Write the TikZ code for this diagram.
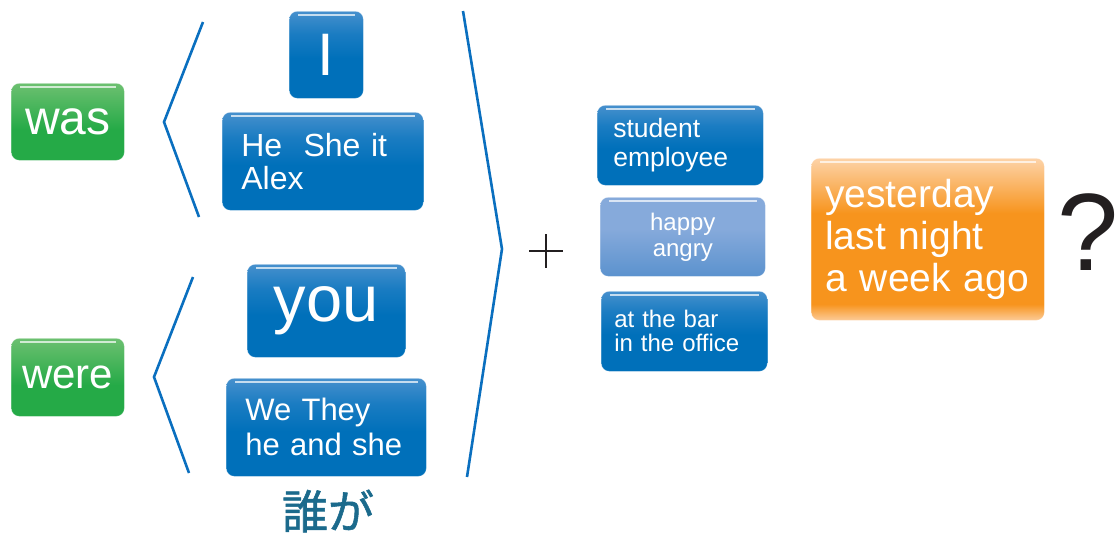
\documentclass[tikz,border=0pt]{standalone}
\usepackage{fontspec}
\setmainfont{Liberation Sans}
\newfontfamily\cjk[FakeBold=1.2]{Noto Sans CJK JP}
\usetikzlibrary{calc}
\definecolor{bluetop}{HTML}{4690CD}
\definecolor{bluemid}{HTML}{1A7CC2}
\definecolor{bluebot}{HTML}{0070BA}
\definecolor{greentop}{HTML}{6CC070}
\definecolor{greenbot}{HTML}{25AA47}
\definecolor{lbtop}{HTML}{86AADB}
\definecolor{lbbot}{HTML}{5B92CE}
\definecolor{ortop}{HTML}{FDD3A8}
\definecolor{ormid}{HTML}{F7941D}
\definecolor{orbot}{HTML}{FCCB98}
\definecolor{bracketblue}{HTML}{0A6FBF}
\definecolor{jpteal}{HTML}{1B6A8C}
\definecolor{qmark}{HTML}{231F20}
\pgfdeclareverticalshading{blueshade}{100bp}{color(0bp)=(bluebot); color(25bp)=(bluebot); color(48bp)=(bluebot); color(62bp)=(bluemid); color(75bp)=(bluetop); color(100bp)=(bluetop)}
\pgfdeclareverticalshading{greenshade}{100bp}{color(0bp)=(greenbot); color(25bp)=(greenbot); color(45bp)=(greenbot); color(75bp)=(greentop); color(100bp)=(greentop)}
\pgfdeclareverticalshading{lbshade}{100bp}{color(0bp)=(lbbot); color(25bp)=(lbbot); color(55bp)=(lbtop); color(75bp)=(lbtop); color(100bp)=(lbtop)}
\pgfdeclareverticalshading{orshade}{100bp}{color(0bp)=(orbot); color(25bp)=(orbot); color(30bp)=(ormid); color(58bp)=(ormid); color(75bp)=(ortop); color(100bp)=(ortop)}
\tikzset{
  box/.style={anchor=north west, rounded corners=8pt, shade, inner ysep=0pt,
    text=white, draw=white, draw opacity=0.35, line width=0.6pt},
  bluebox/.style={box, shading=blueshade},
  greenbox/.style={box, shading=greenshade},
  lbbox/.style={box, shading=lbshade},
  orbox/.style={box, shading=orshade},
  shine/.style={draw=white, opacity=0.7, line width=1.4pt},
  brack/.style={draw=bracketblue, line width=2.6pt},
}
\begin{document}
\begin{tikzpicture}[x=1pt,y=-1pt]
\useasboundingbox (0,0) rectangle (1117,536);

% left column
\node[greenbox, minimum width=113pt, minimum height=77pt, inner xsep=0pt,
  font=\fontsize{48}{52}\selectfont] (was) at (11,83) {was};
\node[greenbox, minimum width=113pt, minimum height=78pt, inner xsep=0pt,
  font=\fontsize{42}{46}\selectfont] (were) at (11,338) {were};

% pronoun boxes
\node[bluebox, minimum width=74pt, minimum height=87pt, inner xsep=0pt,
  font=\fontsize{60}{64}\selectfont] (i) at (289,11) {I};
\node[bluebox, minimum width=201pt, minimum height=98pt, inner xsep=19pt,
  text width=163pt, align=left, font=\fontsize{32}{33}\selectfont] (he) at (222,112) {He\ \ She it\\Alex};
\node[bluebox, minimum width=158pt, minimum height=93pt, inner xsep=0pt,
  font=\fontsize{65}{68}\selectfont] (you) at (247,264) {you};
\node[bluebox, minimum width=200pt, minimum height=98pt, inner xsep=19pt,
  text width=162pt, align=left, font=\fontsize{31}{35}\selectfont] (we) at (226,378) {We They\\he and she};
\node[text=jpteal, font=\cjk\fontsize{46}{48}\selectfont, inner sep=1pt] (who) at (328,511) {誰が};

% shines
\foreach \n in {was,were,i,he,you,we}{
  \draw[shine] ($(\n.north west)+(9,4)$) -- ($(\n.north east)+(-9,4)$);
}

% brackets
\draw[brack] (203,22) -- (164,122) -- (199,217);
\draw[brack] (193,277) -- (154,377) -- (189,473);
\draw[brack] (463,11) -- (502,249) -- (467,477);

% plus
\coordinate (plus) at (546,251);
\draw[qmark, line width=2.8pt] ($(plus)+(-17,0)$) -- ($(plus)+(17,0)$);
\draw[qmark, line width=2.8pt] ($(plus)+(0,-17)$) -- ($(plus)+(0,17)$);

% middle column
\node[bluebox, minimum width=166pt, minimum height=80pt, inner xsep=16pt,
  text width=134pt, align=left, font=\fontsize{26.5}{29}\selectfont] (student) at (597,105) {student\\employee};
\node[lbbox, minimum width=165pt, minimum height=79pt, inner xsep=16pt,
  text width=133pt, align=center, font=\fontsize{24}{26}\selectfont] (happy) at (600,197) {happy\\angry};
\node[bluebox, minimum width=166pt, minimum height=80pt, inner xsep=13pt,
  text width=140pt, align=left, font=\fontsize{24}{24}\selectfont] (bar) at (601,291) {at the bar\\in the office};

% time box
\node[orbox, minimum width=233pt, minimum height=162pt, inner xsep=14pt,
  text width=205pt, align=left, font=\fontsize{39}{42}\selectfont] (time) at (811,158) {yesterday\\last night\\a week ago};

\foreach \n in {student,happy,bar,time}{
  \draw[shine] ($(\n.north west)+(9,4)$) -- ($(\n.north east)+(-9,4)$);
}

% question mark
\node[text=qmark, font=\fontsize{110}{114}\selectfont, inner sep=0pt, anchor=east] (q) at (1119,232) {?};
\end{tikzpicture}
\end{document}
